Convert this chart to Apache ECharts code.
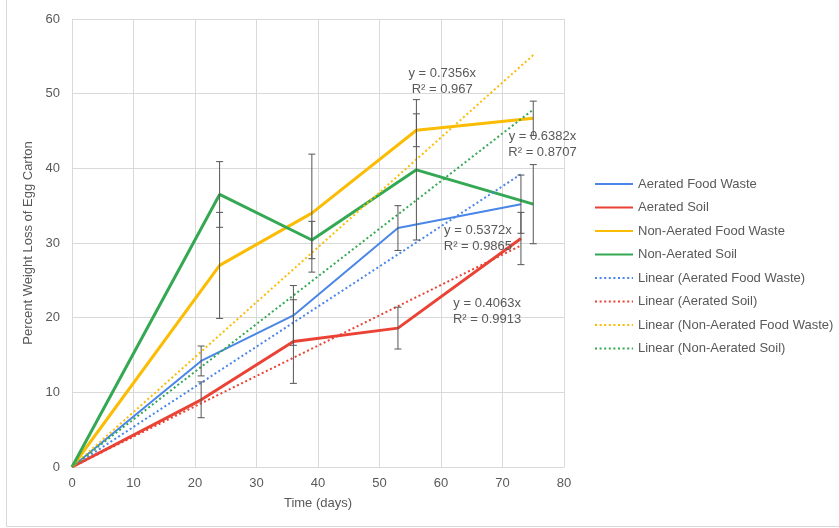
<!DOCTYPE html>
<html>
<head>
<meta charset="utf-8">
<script src="https://cdn.jsdelivr.net/npm/echarts@6/dist/echarts.min.js"></script>
<style>
html,body{margin:0;padding:0;background:#fff;}
#chart{width:839px;height:528px;}
</style>
</head>
<body>
<div id="chart"></div>
<script>
// ---- data ----
const seriesNames = ['Aerated Food Waste', 'Aerated Soil', 'Non-Aerated Food Waste', 'Non-Aerated Soil'];
const afwX = [0, 21, 36, 53, 73];
const afwY = [0, 14.2, 20.3, 32.0, 35.2];
const afwErr = [0, 2.0, 4.0, 3.0, 3.9];
const asX = [0, 21, 36, 53, 73];
const asY = [0, 9.0, 16.8, 18.6, 30.6];
const asErr = [0, 2.4, 5.6, 2.8, 3.5];
const nafwX = [0, 24, 39, 56, 75];
const nafwY = [0, 27.0, 34.0, 45.1, 46.7];
const nafwErr = [0, 7.1, 7.9, 2.2, 2.3];
const nasX = [0, 24, 39, 56, 75];
const nasY = [0, 36.5, 30.4, 39.8, 35.2];
const nasErr = [0, 4.4, 2.5, 9.4, 5.3];
const trendSlopes = [0.5372, 0.4063, 0.7356, 0.6382];
const trendR2 = ['0.9865', '0.9913', '0.967', '0.8707'];
const xTicks = [0, 10, 20, 30, 40, 50, 60, 70, 80];
const yTicks = [0, 10, 20, 30, 40, 50, 60];

// ---- chart ----
const colors = ['#4a86e8', '#ea4335', '#fbbc04', '#34a853'];
const lineWidths = [2, 3, 3, 3];
const xs = [afwX, asX, nafwX, nasX];
const ys = [afwY, asY, nafwY, nasY];
const errs = [afwErr, asErr, nafwErr, nasErr];
const labelCoords = [[66.0, 30.65], [67.5, 20.85], [60.2, 51.6], [76.5, 43.2]];
const FONT = '"Liberation Sans", Arial, sans-serif';
const TXT = '#595959';

const chart = echarts.init(document.getElementById('chart'), null, {renderer: 'canvas'});
const series = [];
seriesNames.forEach((n, i) => {
  series.push({
    name: n, type: 'line', symbol: 'none', z: 3,
    data: xs[i].map((x, k) => [x, ys[i][k]]),
    lineStyle: {color: colors[i], width: lineWidths[i]},
    itemStyle: {color: colors[i]}
  });
});
seriesNames.forEach((n, i) => {
  const xEnd = xs[i][xs[i].length - 1];
  series.push({
    name: 'Linear (' + n + ')', type: 'line', symbol: 'none', z: 4,
    data: [[0, 0], [xEnd, trendSlopes[i] * xEnd]],
    lineStyle: {color: colors[i], width: 2, type: [2, 2.6]},
    itemStyle: {color: colors[i]},
    markPoint: {
      symbol: 'circle', symbolSize: 0, silent: true, animation: false,
      data: [{coord: labelCoords[i], value: 0}],
      label: {
        show: true, position: 'inside', color: TXT, fontFamily: FONT, fontSize: 13, lineHeight: 16,
        align: 'center', verticalAlign: 'middle',
        formatter: 'y = ' + trendSlopes[i] + 'x\nR² = ' + trendR2[i]
      }
    }
  });
});
seriesNames.forEach((n, i) => {
  series.push({
    name: 'err' + i, type: 'custom', z: 5, silent: true,
    data: xs[i].map((x, k) => [x, ys[i][k], errs[i][k]]).filter(d => d[2] > 0),
    encode: {x: 0, y: 1},
    renderItem: function (params, api) {
      const x = api.value(0), y = api.value(1), e = api.value(2);
      const top = api.coord([x, y + e]);
      const bot = api.coord([x, y - e]);
      const hw = 3.5;
      const st = {stroke: '#555555', lineWidth: 1};
      return {
        type: 'group', children: [
          {type: 'line', shape: {x1: top[0], y1: top[1], x2: bot[0], y2: bot[1]}, style: st},
          {type: 'line', shape: {x1: top[0] - hw, y1: top[1], x2: top[0] + hw, y2: top[1]}, style: st},
          {type: 'line', shape: {x1: bot[0] - hw, y1: bot[1], x2: bot[0] + hw, y2: bot[1]}, style: st}
        ]
      };
    }
  });
});

const legendNames = seriesNames.concat(seriesNames.map(n => 'Linear (' + n + ')'));

chart.setOption({
  animation: false,
  backgroundColor: '#ffffff',
  textStyle: {fontFamily: FONT},
  grid: {left: 72, right: 275, top: 19, bottom: 61, containLabel: false},
  legend: {
    data: legendNames, orient: 'vertical', left: 594, top: 177.5, padding: 0,
    itemWidth: 38, itemHeight: 14, itemGap: 10.5,
    itemStyle: {opacity: 0},
    textStyle: {color: TXT, fontSize: 13, fontFamily: FONT},
    selectedMode: false
  },
  xAxis: {
    type: 'value', min: xTicks[0], max: xTicks[xTicks.length - 1], interval: 10,
    name: 'Time (days)', nameLocation: 'middle', nameGap: 30,
    nameTextStyle: {color: TXT, fontSize: 13, fontFamily: FONT},
    axisLine: {show: true, lineStyle: {color: '#d9d9d9'}},
    axisTick: {show: false},
    axisLabel: {color: TXT, fontSize: 13, fontFamily: FONT, margin: 10},
    splitLine: {show: true, lineStyle: {color: '#d9d9d9', width: 1}}
  },
  yAxis: {
    type: 'value', min: yTicks[0], max: yTicks[yTicks.length - 1], interval: 10,
    name: 'Percent Weight Loss of Egg Carton', nameLocation: 'middle', nameGap: 28,
    nameTextStyle: {color: TXT, fontSize: 13, fontFamily: FONT},
    axisLine: {show: true, lineStyle: {color: '#d9d9d9'}},
    axisTick: {show: false},
    axisLabel: {color: TXT, fontSize: 13, fontFamily: FONT, margin: 12},
    splitLine: {show: true, lineStyle: {color: '#d9d9d9', width: 1}}
  },
  graphic: [{
    type: 'rect', silent: true, z: -1,
    shape: {x: 6.5, y: -5, width: 850, height: 531.5},
    style: {fill: 'none', stroke: '#d9d9d9', lineWidth: 1}
  }],
  series: series
});
</script>
</body>
</html>
